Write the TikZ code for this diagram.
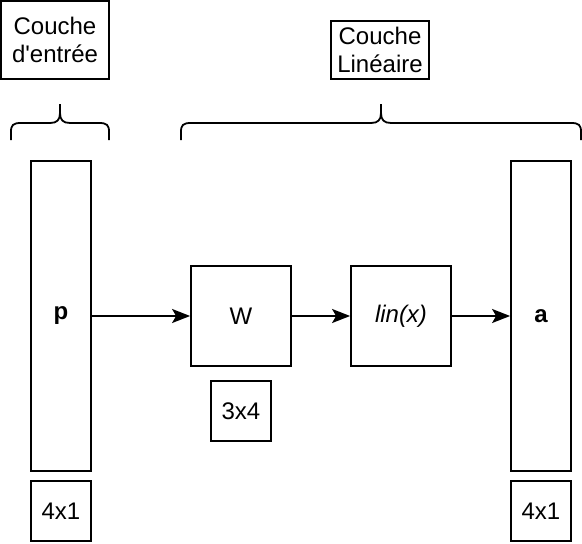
\documentclass[tikz,border=0pt]{standalone}
\usepackage{fontspec}
\setmainfont{Liberation Sans}[Ligatures=TeXOff]
\usetikzlibrary{arrows.meta}
\begin{document}
\begin{tikzpicture}[x=1pt,y=-1pt,
  box/.style={draw,line width=1.8pt,inner sep=0pt,font=\fontsize{24}{28}\selectfont,align=center},
  conn/.style={line width=1.8pt,-{Stealth[length=18pt,width=14pt,inset=4pt]}},
  brace/.style={line width=1.8pt,line join=round}]
\useasboundingbox (0,0) rectangle (582,544);
\node[box,minimum width=108pt,minimum height=78pt] (ce) at (55,40) {Couche\\d'entrée};
\node[box,minimum width=98pt,minimum height=58pt] (cl) at (380,50) {Couche\\Linéaire};
\node[box,minimum width=60pt,minimum height=310pt,font=\fontsize{24}{28}\selectfont\bfseries] (p) at (61,316) {p};
\node[box,minimum width=60pt,minimum height=60pt] (d1) at (61,511) {4x1};
\node[box,minimum width=100pt,minimum height=100pt] (w) at (241,316) {W};
\node[box,minimum width=60pt,minimum height=60pt] (d2) at (241,411) {3x4};
\node[box,minimum width=100pt,minimum height=100pt,font=\fontsize{24}{28}\selectfont\itshape] (lin) at (401,316) {lin(x)};
\node[box,minimum width=60pt,minimum height=310pt,font=\fontsize{24}{28}\selectfont\bfseries] (a) at (541,316) {a};
\node[box,minimum width=60pt,minimum height=60pt] (d3) at (541,511) {4x1};
\draw[conn] (p) -- (w);
\draw[conn] (w) -- (lin);
\draw[conn] (lin) -- (a);
% braces
\coordinate (b1l) at (11,140);
\coordinate (b1r) at (109,140);
\coordinate (b1t) at (60,104);
\draw[brace] (b1l) -- (11,132) .. controls (11,125) and (13,123) .. (21,123) -- (50,123) .. controls (57,123) and (60,120) .. (60,113) -- (b1t)
  (b1t) -- (60,113) .. controls (60,120) and (63,123) .. (70,123) -- (99,123) .. controls (107,123) and (109,125) .. (109,132) -- (b1r);
\coordinate (b2l) at (181,140);
\coordinate (b2r) at (581,140);
\coordinate (b2t) at (381,104);
\draw[brace] (b2l) -- (181,132) .. controls (181,125) and (183,123) .. (191,123) -- (371,123) .. controls (378,123) and (381,120) .. (381,113) -- (b2t)
  (b2t) -- (381,113) .. controls (381,120) and (384,123) .. (391,123) -- (571,123) .. controls (579,123) and (581,125) .. (581,132) -- (b2r);
\end{tikzpicture}
\end{document}
